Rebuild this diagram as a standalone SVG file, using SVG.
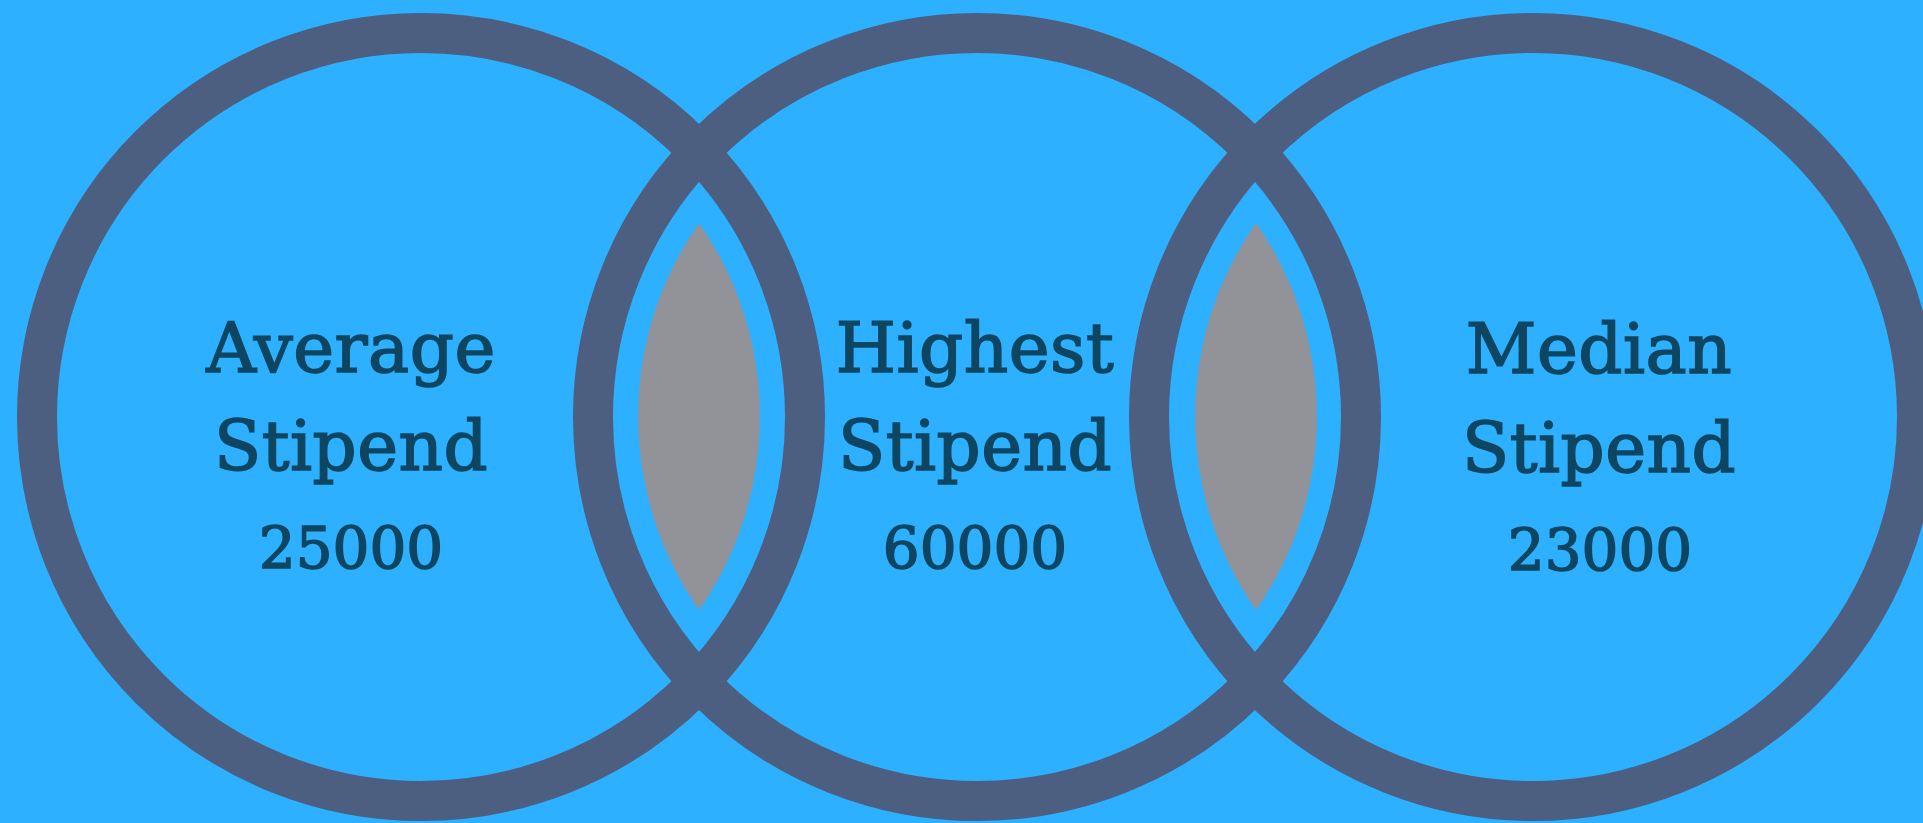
<svg xmlns="http://www.w3.org/2000/svg" width="1923" height="823" viewBox="0 0 1923 823">
  <style>
    .ring { fill: none; stroke: #4C5F80; stroke-width: 40; }
    .lens { fill: #919399; }
    .lbl { font-family: "DejaVu Serif", "Liberation Serif", serif; font-size: 69px; fill: #0E4661; stroke: #0E4661; stroke-width: 1.6; text-anchor: middle; letter-spacing: 0.5px; }
    .num { font-family: "DejaVu Serif", "Liberation Serif", serif; font-size: 58px; fill: #0E4661; stroke: #0E4661; stroke-width: 1.6; text-anchor: middle; }
  </style>
  <rect x="0" y="0" width="1923" height="823" fill="#2DB0FF"/>
  <g id="average">
    <circle class="ring" cx="421" cy="417" r="384"/>
  </g>
  <g id="highest">
    <circle class="ring" cx="977" cy="417" r="384"/>
  </g>
  <g id="median">
    <circle class="ring" cx="1533" cy="417" r="384"/>
  </g>
  <g id="overlaps">
    <path class="lens" d="M699 223 A338 338 0 0 1 699 610 A338 338 0 0 1 699 223 Z"/>
    <path class="lens" d="M1256 223 A338 338 0 0 1 1256 610 A338 338 0 0 1 1256 223 Z"/>
  </g>
  <g id="average-text">
    <text class="lbl" x="351" y="372">Average</text>
    <text class="lbl" x="351" y="470">Stipend</text>
    <text class="num" x="351" y="568">25000</text>
  </g>
  <g id="highest-text">
    <text class="lbl" x="975" y="372">Highest</text>
    <text class="lbl" x="975" y="470">Stipend</text>
    <text class="num" x="975" y="568">60000</text>
  </g>
  <g id="median-text">
    <text class="lbl" x="1599" y="373">Median</text>
    <text class="lbl" x="1599" y="472">Stipend</text>
    <text class="num" x="1600" y="570">23000</text>
  </g>
</svg>
